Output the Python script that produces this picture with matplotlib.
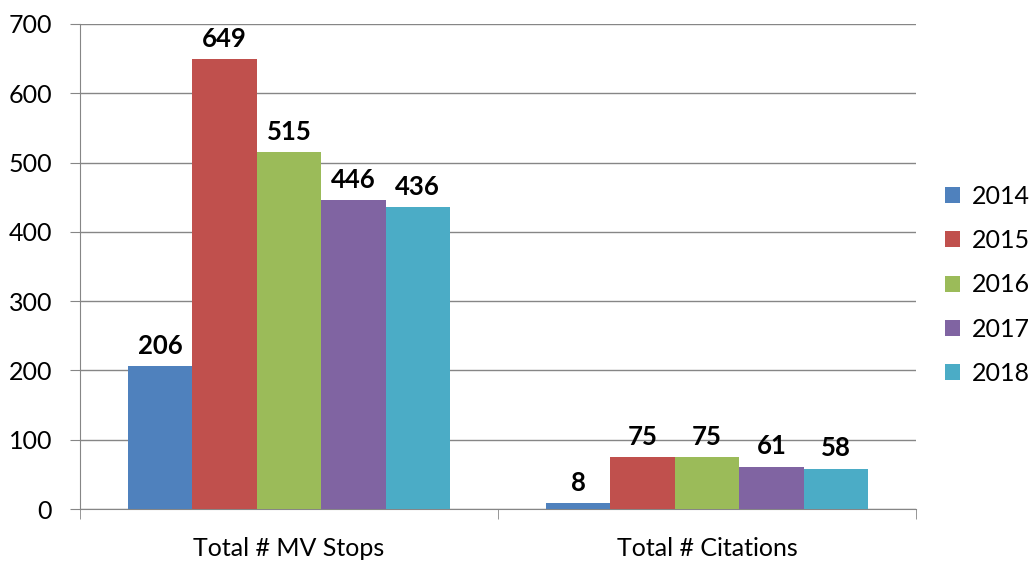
import matplotlib.pyplot as plt
import numpy as np

# data
categories = ["Total # MV Stops", "Total # Citations"]
years = ["2014", "2015", "2016", "2017", "2018"]
values = {
    "2014": [206, 8],
    "2015": [649, 75],
    "2016": [515, 75],
    "2017": [446, 61],
    "2018": [436, 58],
}
colors = ["#4F81BD", "#C0504D", "#9BBB59", "#8064A2", "#4BACC6"]

plt.rcParams['font.family'] = ['Lato', 'DejaVu Sans']

fig = plt.figure(figsize=(10.32, 5.62), dpi=100)
ax = fig.add_axes([0.0775, 0.0943, 0.8101, 0.863])

x = np.arange(len(categories))
width = 0.77 / len(years)
for i, yr in enumerate(years):
    pos = x + (i - 2) * width
    bars = ax.bar(pos, values[yr], width, color=colors[i], label=yr, zorder=3)
    for b, v in zip(bars, values[yr]):
        ax.annotate(str(v), (b.get_x() + b.get_width() / 2, v),
                    xytext=(0, 6), textcoords="offset points",
                    ha="center", va="bottom", fontsize=18.5, fontweight="bold")

ax.set_xlim(-0.5, 1.5)
ax.set_ylim(0, 700)
ax.set_yticks(range(0, 701, 100))
ax.yaxis.grid(True, color="#868686", linewidth=1, zorder=0)
ax.set_axisbelow(True)

ax.set_xticks(x)
ax.set_xticklabels(categories, fontsize=18)
ax.set_xticks([-0.5, 0.5, 1.5], minor=True)
ax.tick_params(axis="x", which="major", length=0, pad=20)
ax.tick_params(axis="x", which="minor", length=7, color="#868686")
ax.tick_params(axis="y", length=7, color="#868686", labelsize=18, pad=13)

for s in ["top", "right"]:
    ax.spines[s].set_visible(False)
for s in ["left", "bottom"]:
    ax.spines[s].set_color("#868686")

ax.legend(loc="center left", bbox_to_anchor=(1.035, 0.462), frameon=False,
          borderaxespad=0, borderpad=0,
          fontsize=18, handlelength=0.6, handleheight=0.6, handletextpad=0.45,
          labelspacing=0.85)

fig.savefig("out.png", dpi=100)
